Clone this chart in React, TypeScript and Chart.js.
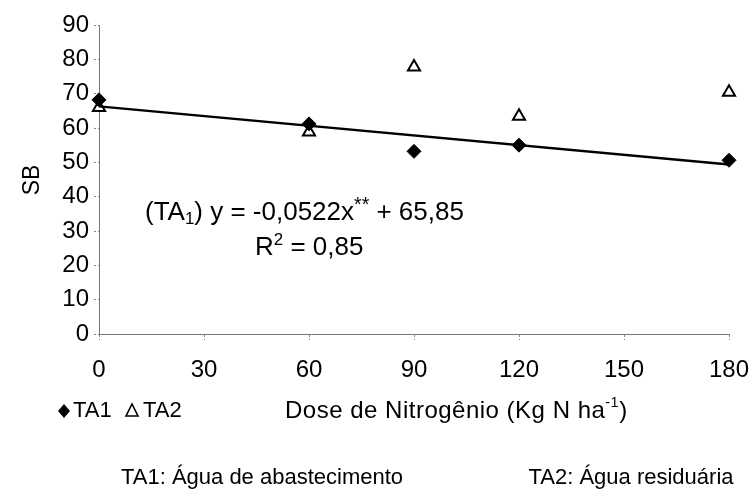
import React, { useEffect, useRef } from "react";
import { Chart, registerables } from "chart.js";

Chart.register(...registerables);

const doses = [0, 60, 90, 120, 180];
const ta1 = [68.2, 61.2, 53.2, 55.0, 50.6];
const ta2 = [66.0, 58.8, 77.8, 63.4, 70.4];
const trendX = [0, 180];
const trendY = [66.3, 49.4];
const xTicks = [0, 30, 60, 90, 120, 150, 180];
const yTicks = [0, 10, 20, 30, 40, 50, 60, 70, 80, 90];

const FONT = "'Liberation Sans', Arial, sans-serif";

function drawRich(ctx: CanvasRenderingContext2D, parts: { t: string; s?: number; dy?: number }[], x: number, y: number, size: number) {
  let cx = x;
  for (const p of parts) {
    const fs = size * (p.s ?? 1);
    ctx.font = `${fs}px ${FONT}`;
    ctx.fillText(p.t, cx, y + (p.dy ?? 0));
    cx += ctx.measureText(p.t).width;
  }
}

const textPlugin = {
  id: "extraText",
  afterDraw(chart: any) {
    const ctx: any = chart.ctx;
    ctx.save();
    ctx.fillStyle = "#000";
    ctx.textBaseline = "middle";
    ctx.textAlign = "left";
    // y title
    ctx.save();
    ctx.translate(33, 180);
    ctx.rotate(-Math.PI / 2);
    ctx.textAlign = "center";
    ctx.font = `23px ${FONT}`;
    ctx.fillText("SB", 0, 0);
    ctx.restore();
    // legend
    const ly = 411;
    ctx.beginPath();
    ctx.moveTo(64, ly - 7);
    ctx.lineTo(70, ly);
    ctx.lineTo(64, ly + 7);
    ctx.lineTo(58, ly);
    ctx.closePath();
    ctx.fill();
    ctx.font = `22px ${FONT}`;
    ctx.fillText("TA1", 73, ly);
    ctx.beginPath();
    ctx.moveTo(132, ly - 7);
    ctx.lineTo(138, ly + 5);
    ctx.lineTo(126, ly + 5);
    ctx.closePath();
    ctx.lineWidth = 1.6;
    ctx.strokeStyle = "#000";
    ctx.stroke();
    ctx.fillText("TA2", 143, ly);
    // x title
    ctx.letterSpacing = "0.5px";
    drawRich(ctx, [
      { t: "Dose de Nitrogênio (Kg N ha" },
      { t: "-1", s: 0.6, dy: -8 },
      { t: ")" },
    ], 285, ly, 24);
    // equation
    ctx.letterSpacing = "0px";
    drawRich(ctx, [
      { t: "(TA" },
      { t: "1", s: 0.65, dy: 6 },
      { t: ") y = -0,0522x" },
      { t: "**", s: 0.75, dy: -7 },
      { t: " + 65,85" },
    ], 145, 213, 26);
    drawRich(ctx, [
      { t: "R" },
      { t: "2", s: 0.65, dy: -8 },
      { t: " = 0,85" },
    ], 255, 248, 26);
    // bottom note
    ctx.font = `22px ${FONT}`;
    ctx.textAlign = "center";
    ctx.fillText("TA1: Água de abastecimento", 262, 478);
    ctx.fillText("TA2: Água residuária", 631, 478);
    ctx.restore();
  },
};

export default function App() {
  const ref = useRef<HTMLCanvasElement | null>(null);
  useEffect(() => {
    document.body.style.margin = "0";
    const canvas = ref.current!;
    const chart = new Chart(canvas, {
      type: "scatter",
      data: {
        datasets: [
          {
            label: "Trend",
            type: "line",
            data: trendX.map((x, i) => ({ x, y: trendY[i] })),
            borderColor: "#000",
            borderWidth: 2.5,
            pointRadius: 0,
            fill: false,
            clip: false,
          } as any,
          {
            label: "TA1",
            data: doses.map((x, i) => ({ x, y: ta1[i] })),
            pointStyle: "rectRot",
            pointRadius: 7,
            backgroundColor: "#000",
            borderColor: "#000",
            borderWidth: 1,
            clip: false,
          } as any,
          {
            label: "TA2",
            data: doses.map((x, i) => ({ x, y: ta2[i] })),
            pointStyle: "triangle",
            pointRadius: 7,
            backgroundColor: "#fff",
            borderColor: "#000",
            borderWidth: 2,
            clip: false,
          } as any,
        ],
      },
      options: {
        animation: false,
        responsive: false,
        devicePixelRatio: 1,
        layout: { padding: { left: 0, right: 22, top: 25, bottom: 0 } },
        plugins: { legend: { display: false }, tooltip: { enabled: false } },
        scales: {
          x: {
            type: "linear",
            min: 0,
            max: 180,
            afterBuildTicks: (s: any) => { s.ticks = xTicks.map((v) => ({ value: v })); },
            afterFit: (s: any) => { s.height = 159; s.paddingRight = 0; s.paddingLeft = 0; },
            grid: { drawOnChartArea: false, drawTicks: true, tickLength: 6, color: "#888", tickBorderDash: [2, 2] } as any,
            border: { display: true, color: "#777", dash: [3, 2], width: 1 },
            ticks: { color: "#000", font: { family: FONT, size: 24 }, padding: 16, maxRotation: 0 },
          },
          y: {
            min: 0,
            max: 90,
            afterBuildTicks: (s: any) => { s.ticks = yTicks.map((v) => ({ value: v })); },
            afterFit: (s: any) => { s.width = 99; s.paddingTop = 0; s.paddingBottom = 0; },
            grid: { drawOnChartArea: false, drawTicks: true, tickLength: 5, color: "#888", tickBorderDash: [2, 2] } as any,
            border: { display: true, color: "#777", dash: [3, 2], width: 1 },
            ticks: { color: "#000", font: { family: FONT, size: 24 }, padding: 5 },
          },
        },
      },
      plugins: [textPlugin],
    });
    return () => chart.destroy();
  }, []);
  return <canvas ref={ref} width={751} height={493} style={{ display: "block" }} />;
}
